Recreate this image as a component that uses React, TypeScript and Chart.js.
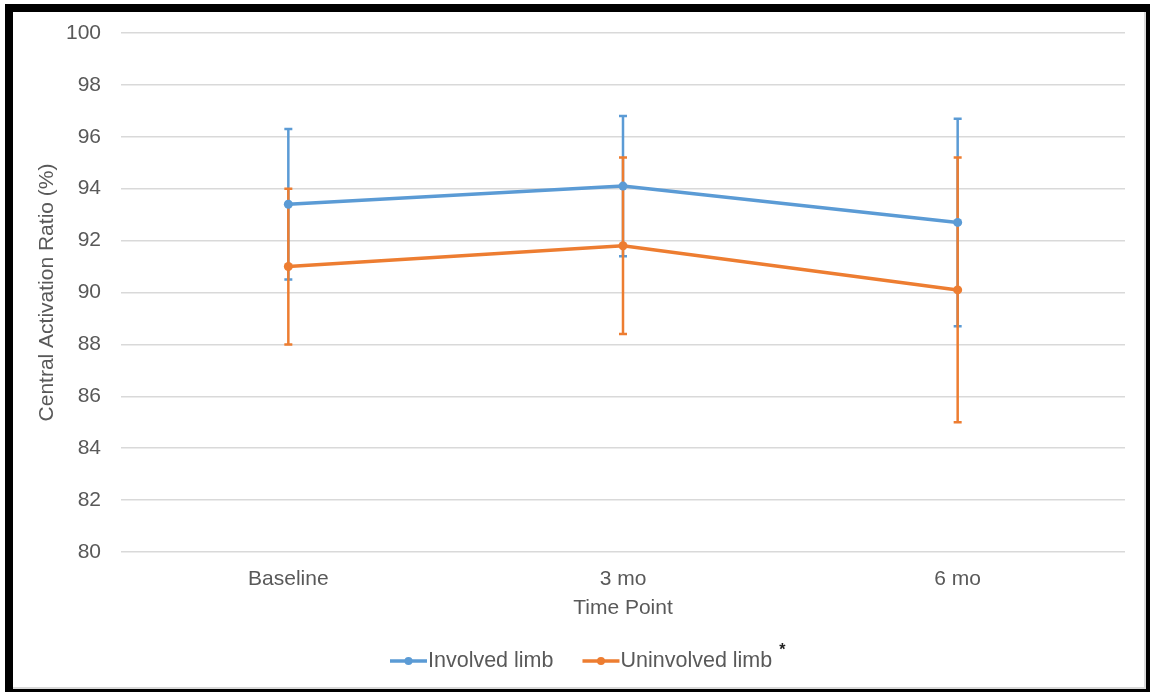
import React, { useEffect, useRef } from "react";
import { Chart, registerables } from "chart.js";

Chart.register(...registerables);

const categories = ["Baseline", "3 mo", "6 mo"];
const involved = [93.4, 94.1, 92.7];
const involvedErr = [2.9, 2.7, 4.0];
const uninvolved = [91.0, 91.8, 90.1];
const uninvolvedErr = [3.0, 3.4, 5.1];
const seriesNames = ["Involved limb", "Uninvolved limb"];
const yMin = 80;
const yMax = 100;
const yStep = 2;

const BLUE = "#5B9BD5";
const ORANGE = "#ED7D31";
const TEXT = "#595959";
const FONT = "'Liberation Sans', Arial, sans-serif";

const errors = [involvedErr, uninvolvedErr];

const errorBarPlugin = {
  id: "errorBars",
  beforeDatasetsDraw(chart: any) {
    const ctx = chart.ctx;
    const yScale = chart.scales.y;
    chart.data.datasets.forEach((ds: any, di: number) => {
      const meta = chart.getDatasetMeta(di);
      const err = errors[di];
      ctx.save();
      ctx.strokeStyle = ds.borderColor;
      ctx.lineWidth = 2.5;
      meta.data.forEach((pt: any, i: number) => {
        const v = ds.data[i];
        const yTop = yScale.getPixelForValue(v + err[i]);
        const yBot = yScale.getPixelForValue(v - err[i]);
        const x = pt.x;
        ctx.beginPath();
        ctx.moveTo(x, yTop);
        ctx.lineTo(x, yBot);
        ctx.moveTo(x - 4, yTop);
        ctx.lineTo(x + 4, yTop);
        ctx.moveTo(x - 4, yBot);
        ctx.lineTo(x + 4, yBot);
        ctx.stroke();
      });
      ctx.restore();
    });
  },
};

const legendPlugin = {
  id: "customLegend",
  afterDraw(chart: any) {
    const ctx = chart.ctx;
    const y = 661;
    let x = 390;
    ctx.save();
    ctx.font = `21.5px ${FONT}`;
    ctx.textBaseline = "middle";
    ctx.textAlign = "left";
    chart.data.datasets.forEach((ds: any, di: number) => {
      ctx.strokeStyle = ds.borderColor;
      ctx.fillStyle = ds.borderColor;
      ctx.lineWidth = 3.5;
      ctx.beginPath();
      ctx.moveTo(x, y);
      ctx.lineTo(x + 37, y);
      ctx.stroke();
      ctx.beginPath();
      ctx.arc(x + 18.5, y, 4, 0, Math.PI * 2);
      ctx.fill();
      x += 38;
      ctx.fillStyle = TEXT;
      ctx.fillText(ds.label, x, y);
      const w = ctx.measureText(ds.label).width;
      x += w;
      if (di === 1) {
        ctx.font = `bold 16px ${FONT}`;
        ctx.fillStyle = "#222";
        ctx.fillText("*", x + 7, y - 10);
        ctx.font = `21.5px ${FONT}`;
      }
      x += 29;
    });
    ctx.restore();
  },
};

function ChartView() {
  const ref = useRef<HTMLCanvasElement | null>(null);
  useEffect(() => {
    if (!ref.current) return;
    const chart = new Chart(ref.current, {
      type: "line",
      data: {
        labels: categories,
        datasets: [
          {
            label: seriesNames[0],
            data: involved,
            borderColor: BLUE,
            backgroundColor: BLUE,
            borderWidth: 3.5,
            pointRadius: 4.5,
            pointBorderWidth: 0,
            pointBackgroundColor: BLUE,
            tension: 0,
          },
          {
            label: seriesNames[1],
            data: uninvolved,
            borderColor: ORANGE,
            backgroundColor: ORANGE,
            borderWidth: 3.5,
            pointRadius: 4.5,
            pointBorderWidth: 0,
            pointBackgroundColor: ORANGE,
            tension: 0,
          },
        ],
      },
      options: {
        animation: false,
        responsive: false,
        maintainAspectRatio: false,
        layout: { padding: { left: 35, top: 33, right: 25, bottom: 71.4 } },
        plugins: {
          legend: { display: false },
          tooltip: { enabled: false },
        },
        scales: {
          x: {
            offset: true,
            grid: { display: false, drawTicks: false },
            border: { display: false },
            ticks: { color: TEXT, font: { size: 21, family: FONT }, padding: 15 },
            title: {
              display: true,
              text: "Time Point",
              color: TEXT,
              font: { size: 21, family: FONT },
              padding: { top: 0, bottom: 0 },
            },
            afterFit: (scale: any) => {
              scale.height = 68.6;
            },
          },
          y: {
            min: yMin,
            max: yMax,
            grid: { color: "#D9D9D9", lineWidth: 1.5, drawTicks: false },
            border: { display: false },
            ticks: {
              stepSize: yStep,
              color: TEXT,
              font: { size: 21, family: FONT },
              padding: 20,
            },
            title: {
              display: true,
              text: "Central Activation Ratio (%)",
              color: TEXT,
              font: { size: 21, family: FONT },
              padding: { top: 0, bottom: 0 },
            },
            afterFit: (scale: any) => {
              scale.width = 86;
            },
          },
        },
      },
      plugins: [errorBarPlugin, legendPlugin],
    });
    return () => chart.destroy();
  }, []);
  return (
    <canvas
      ref={ref}
      width={1150}
      height={692}
      style={{ position: "absolute", left: 0, top: 0, width: 1150, height: 692 }}
    />
  );
}

export default function App() {
  return (
    <div
      style={{
        position: "absolute",
        left: 0,
        top: 0,
        width: 1150,
        height: 692,
        background: "#fff",
        overflow: "hidden",
      }}
    >
      <div
        style={{
          position: "absolute",
          left: 5,
          top: 4,
          width: 1145,
          height: 688,
          boxSizing: "border-box",
          borderTop: "8px solid #000",
          borderLeft: "8px solid #000",
          borderRight: "4px solid #000",
          borderBottom: "3px solid #000",
        }}
      >
        <div
          style={{
            position: "absolute",
            left: 0,
            top: 0,
            right: 0,
            bottom: 0,
            borderRight: "2px solid #D9D9D9",
            borderBottom: "2px solid #D9D9D9",
          }}
        />
      </div>
      <ChartView />
    </div>
  );
}
